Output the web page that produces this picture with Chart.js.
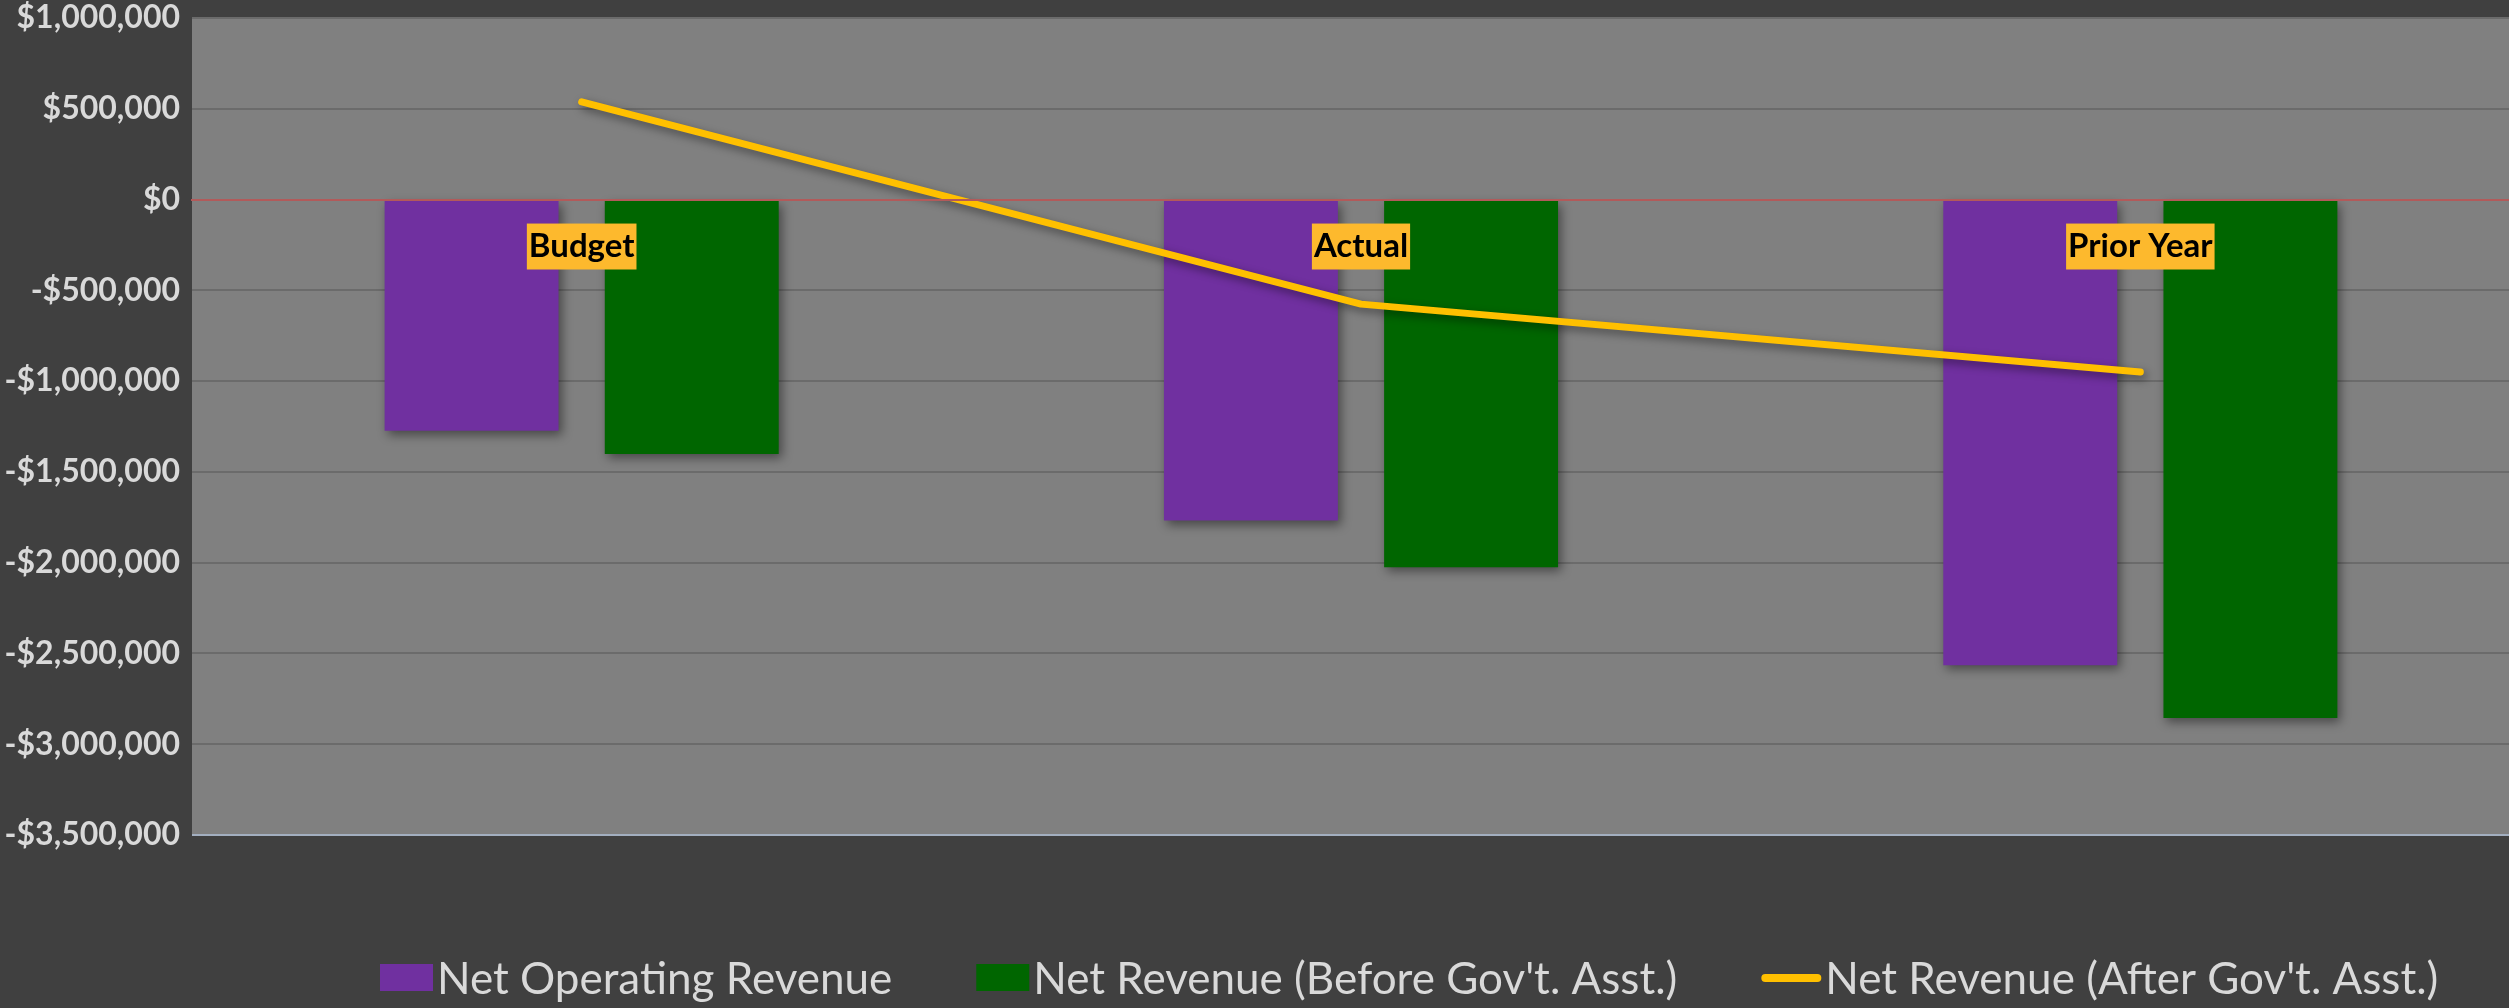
<!DOCTYPE html>
<html>
<head>
<meta charset="utf-8">
<script src="https://cdn.jsdelivr.net/npm/chart.js@4.4.1/dist/chart.umd.min.js"></script>
<style>
  html, body { margin: 0; padding: 0; background: #404040; overflow: hidden; }
  #wrap { width: 2530px; height: 1008px; position: relative; }
</style>
</head>
<body>
<div id="wrap"><canvas id="revChart"></canvas></div>
<script>
// categories + series
const categories = ['Budget', 'Actual', 'Prior Year'];
const netOperating = [-1274000, -1768000, -2565000];
const netBeforeAsst = [-1402000, -2025000, -2855000];
const netAfterAsst = [538000, -576000, -950000];

const yMin = -3500000;
const yMax = 1000000;
const yStep = 500000;

function money(v) {
    const s = '$' + Math.abs(v).toLocaleString('en-US');
    return v < 0 ? '-' + s : s;
}

// grey plot background
const plotBg = {
    id: 'plotBg',
    beforeDraw(chart) {
        const a = chart.chartArea, c = chart.ctx;
        c.save();
        c.fillStyle = '#808080';
        c.fillRect(a.left, a.top, a.right - a.left, a.bottom - a.top);
        c.restore();
    }
};

// soft drop shadow under bars / line
const shadow = {
    id: 'shadow',
    beforeDatasetDraw(chart) {
        const c = chart.ctx;
        c.save();
        c.shadowColor = 'rgba(0,0,0,0.45)';
        c.shadowBlur = 10;
        c.shadowOffsetX = 3;
        c.shadowOffsetY = 4;
    },
    afterDatasetDraw(chart) {
        chart.ctx.restore();
    }
};

// legend drawn by hand (box sits tight against the text)
const bottomLegend = {
    id: 'bottomLegend',
    afterDraw(chart) {
        const c = chart.ctx;
        const y = 978;
        let x = chart.chartArea.left + 188;
        c.save();
        c.font = '44px Lato';
        c.textBaseline = 'middle';
        c.textAlign = 'left';
        chart.data.datasets.forEach((ds) => {
            if (ds.type === 'line') {
                c.strokeStyle = ds.borderColor;
                c.lineWidth = 8;
                c.lineCap = 'round';
                c.beginPath();
                c.moveTo(x + 4, y);
                c.lineTo(x + 56, y);
                c.stroke();
                x += 64;
            } else {
                c.fillStyle = ds.backgroundColor;
                c.fillRect(x, y - 14, 53, 27);
                x += 57;
            }
            c.fillStyle = '#D9D9D9';
            c.fillText(ds.label, x, y + 2);
            x += c.measureText(ds.label).width + 84;
        });
        c.restore();
    }
};

const ctx = document.getElementById('revChart').getContext('2d');
const revChart = new Chart(ctx, {
    data: {
        labels: categories,
        datasets: [{
            type: 'bar',
            label: 'Net Operating Revenue',
            data: netOperating,
            backgroundColor: '#7030A0',
            categoryPercentage: 0.565,
            barPercentage: 0.79,
            order: 1
        }, {
            type: 'bar',
            label: "Net Revenue (Before Gov't. Asst.)",
            data: netBeforeAsst,
            backgroundColor: '#006600',
            categoryPercentage: 0.565,
            barPercentage: 0.79,
            order: 2
        }, {
            type: 'line',
            label: "Net Revenue (After Gov't. Asst.)",
            data: netAfterAsst,
            borderColor: '#FFC000',
            backgroundColor: '#FFC000',
            borderWidth: 7,
            borderCapStyle: 'round',
            borderJoinStyle: 'round',
            pointRadius: 0,
            tension: 0,
            order: 0
        }]
    },
    options: {
        responsive: true,
        maintainAspectRatio: false,
        animation: false,
        layout: { padding: { top: 0, left: 0, right: 0, bottom: 173 } },
        plugins: {
            legend: { display: false },
            tooltip: { enabled: false }
        },
        scales: {
            x: {
                position: { y: 0 },
                grid: { display: false, drawTicks: false },
                border: { display: true, color: '#B25A5A', width: 2, z: 1 },
                ticks: {
                    z: 2,
                    color: '#000000',
                    font: { family: 'Lato', size: 33, weight: 'bold', lineHeight: 1.15 },
                    padding: 28,
                    showLabelBackdrop: true,
                    backdropColor: '#FDB92D',
                    backdropPadding: { top: 4, bottom: 4, left: 2, right: 2 }
                }
            },
            y: {
                min: yMin,
                max: yMax,
                afterFit(scale) {
                    scale.width = 192;
                    scale.paddingTop = 18;
                    scale.paddingBottom = 0;
                },
                grid: {
                    color: (c) => c.tick && c.tick.value === yMin ? '#A3AFC0' : '#6B6B6B',
                    lineWidth: 2,
                    drawTicks: false
                },
                border: { display: false },
                ticks: {
                    stepSize: yStep,
                    color: '#D9D9D9',
                    padding: 12,
                    font: { family: 'Lato', size: 32, weight: 'bold', lineHeight: 1.12 },
                    callback: (v) => money(v)
                }
            }
        }
    },
    plugins: [plotBg, shadow, bottomLegend]
});
</script>
</body>
</html>
